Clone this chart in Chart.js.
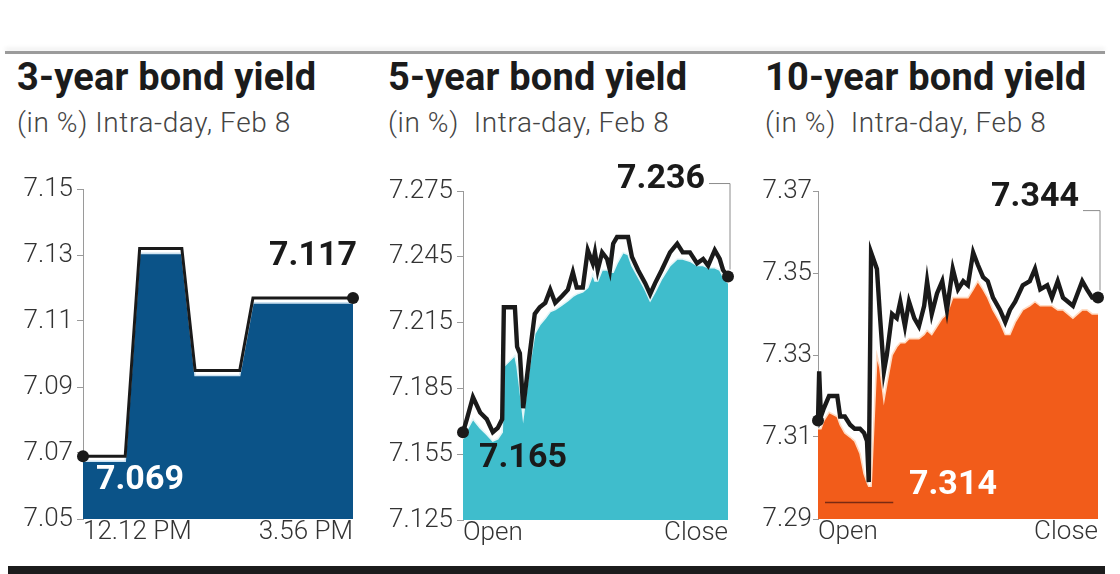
<!DOCTYPE html>
<html>
<head>
<meta charset="utf-8">
<script src="https://cdn.jsdelivr.net/npm/chart.js@4.4.1/dist/chart.umd.min.js"></script>
<style>
  body { margin: 0; width: 1120px; height: 574px; background: #fff; position: relative; overflow: hidden; font-family: Roboto, sans-serif; }
  .rule { position: absolute; left: 5px; top: 51px; width: 1100px; height: 3px; background: #9b9b9b; box-shadow: 0 -3px 4px rgba(0,0,0,0.08); }
  .base { position: absolute; left: 8px; top: 566px; width: 1097px; height: 8px; background: #1c1c1c; }
  .title { position: absolute; top: 55px; font-weight: 700; font-size: 38px; letter-spacing: 0.2px; color: #1b1b1b; white-space: nowrap; }
  .sub { position: absolute; top: 106px; font-weight: 300; font-size: 28px; letter-spacing: 0.6px; color: #444; white-space: pre; }
  .panel { position: absolute; top: 150px; width: 370px; height: 400px; }
  .panel.first { width: 380px; }
</style>
</head>
<body>
<div class="rule"></div>

<div class="title" style="left:17px">3-year bond yield</div>
<div class="sub" style="left:17px">(in %) Intra-day, Feb 8</div>
<div class="title" style="left:388px">5-year bond yield</div>
<div class="sub" style="left:388px">(in %)  Intra-day, Feb 8</div>
<div class="title" style="left:765px">10-year bond yield</div>
<div class="sub" style="left:765px">(in %)  Intra-day, Feb 8</div>

<div class="panel first" style="left:0px"><canvas id="chart-3y"></canvas></div>
<div class="panel" style="left:380px"><canvas id="chart-5y"></canvas></div>
<div class="panel" style="left:750px"><canvas id="chart-10y"></canvas></div>

<div class="base"></div>

<script>
// ---- datos (minutos desde el primer dato, rendimiento en %) ----

// 3 años: 12.12 PM -> 3.56 PM
const threeTime  = [0, 35, 47, 82, 93, 130, 141, 224];
const threeYield = [7.069, 7.069, 7.132, 7.132, 7.095, 7.095, 7.117, 7.117];
const threeFill  = [7.0675, 7.0675, 7.1305, 7.1305, 7.0935, 7.0935, 7.1155, 7.1155];
const threeXLabels = ['12.12 PM', '3.56 PM'];

// 5 años: Open -> Close
const fiveTime = [0, 7, 18, 31, 43, 54, 63, 71, 74, 94, 98, 103, 109, 121, 130, 139, 149, 158, 167, 179,
  190, 199, 206, 217, 226, 235, 239, 244, 252, 261, 266, 272, 279, 290, 299, 306, 317, 330, 339, 348,
  360, 375, 388, 398, 411, 424, 435, 444, 456, 465, 471, 480];
const fiveYield = [7.165, 7.171, 7.181, 7.174, 7.171, 7.165, 7.167, 7.171, 7.222, 7.222,
  7.204, 7.201, 7.176, 7.201, 7.219, 7.222, 7.224, 7.230, 7.224, 7.227,
  7.230, 7.238, 7.231, 7.231, 7.248, 7.242, 7.247, 7.239, 7.247, 7.244,
  7.239, 7.251, 7.254, 7.254, 7.254, 7.245, 7.239, 7.233, 7.228, 7.233,
  7.239, 7.247, 7.251, 7.247, 7.247, 7.242, 7.244, 7.241, 7.248, 7.244,
  7.239, 7.236];
const fiveFill = [7.162, 7.166, 7.171, 7.167, 7.164, 7.161, 7.162, 7.165, 7.195, 7.200,
  7.195, 7.185, 7.172, 7.196, 7.210, 7.214, 7.217, 7.220, 7.221, 7.223,
  7.225, 7.227, 7.228, 7.229, 7.231, 7.237, 7.234, 7.234, 7.239, 7.239,
  7.238, 7.238, 7.242, 7.247, 7.246, 7.241, 7.236, 7.230, 7.225, 7.229,
  7.235, 7.241, 7.244, 7.244, 7.243, 7.241, 7.241, 7.240, 7.240, 7.239,
  7.236, 7.233];
const openCloseLabels = ['Open', 'Close'];

// 10 años: Open -> Close
const tenTime = [0, 2, 5, 10, 19, 33, 38, 46, 55, 63, 72, 79, 84, 87, 91, 101, 106, 113, 118, 127,
  135, 141, 149, 156, 165, 173, 182, 187, 195, 204, 213, 221, 231, 240, 249, 257, 266, 274, 283, 291,
  300, 312, 321, 329, 338, 351, 363, 372, 381, 393, 401, 411, 420, 437, 453, 461, 470, 480];
const tenYield = [7.314, 7.326, 7.315, 7.317, 7.320, 7.320, 7.315, 7.315, 7.313, 7.312,
  7.312, 7.311, 7.309, 7.299, 7.355, 7.351, 7.340, 7.326, 7.330, 7.340,
  7.339, 7.343, 7.337, 7.343, 7.339, 7.337, 7.342, 7.348, 7.340, 7.345,
  7.348, 7.341, 7.351, 7.346, 7.348, 7.347, 7.355, 7.352, 7.349, 7.348,
  7.344, 7.341, 7.338, 7.341, 7.343, 7.347, 7.348, 7.351, 7.346, 7.347,
  7.344, 7.348, 7.344, 7.342, 7.348, 7.346, 7.344, 7.344];
const tenFill = [7.312, 7.312, 7.312, 7.314, 7.316, 7.315, 7.313, 7.311, 7.310, 7.309,
  7.306, 7.301, 7.299, 7.298, 7.298, 7.330, 7.327, 7.319, 7.323, 7.330,
  7.332, 7.333, 7.333, 7.334, 7.334, 7.334, 7.335, 7.336, 7.335, 7.337,
  7.339, 7.340, 7.344, 7.344, 7.344, 7.344, 7.346, 7.348, 7.346, 7.344,
  7.341, 7.338, 7.335, 7.335, 7.338, 7.341, 7.342, 7.343, 7.342, 7.342,
  7.342, 7.341, 7.341, 7.339, 7.341, 7.341, 7.340, 7.340];
// línea fina del mínimo (10 años)
const tenLowRange = [12, 129];
const tenLowValue = 7.294;

let charts = {};

const FONT = 'Roboto';

// etiquetas de apertura / cierre sobre el gráfico
const valueLabels = {
  id: 'valueLabels',
  afterDatasetsDraw(chart, args, opts) {
    const pts = chart.getDatasetMeta(0).data;
    const vals = chart.data.datasets[0].data;
    const ctx = chart.ctx;
    ctx.save();
    ctx.font = '700 34px ' + FONT;
    ctx.textBaseline = 'middle';
    [['start', 0], ['end', pts.length - 1]].forEach(([key, i]) => {
      const o = opts[key];
      if (!o) return;
      const p = pts[i];
      const tx = p.x + o.dx, ty = p.y + o.dy;
      ctx.fillStyle = o.color;
      ctx.textAlign = o.align;
      ctx.fillText(vals[i].y.toFixed(3), tx, ty);
      if (o.leader) {
        ctx.strokeStyle = '#8c8c8c';
        ctx.lineWidth = 1;
        ctx.beginPath();
        ctx.moveTo(tx + 4, p.y + o.leader);
        ctx.lineTo(p.x + 2, p.y + o.leader);
        ctx.lineTo(p.x + 2, p.y - 7);
        ctx.stroke();
      }
    });
    ctx.restore();
  }
};

function pares(xs, ys) {
  return xs.map((x, i) => ({ x: x, y: ys[i] }));
}

function crearGrafico(id, c) {
  const n = c.time.length;
  const datasets = [
    {
      data: pares(c.time, c.line),
      borderColor: '#1a1a1a',
      borderWidth: c.lineWidth,
      borderJoinStyle: 'miter',
      pointRadius: ctx => (ctx.dataIndex === 0 || ctx.dataIndex === n - 1) ? 6 : 0,
      pointBackgroundColor: '#1a1a1a',
      pointBorderWidth: 0,
      fill: false,
      tension: 0,
      clip: false,
      order: 0
    },
    {
      data: pares(c.time, c.fill),
      borderColor: c.edge,
      borderWidth: 1.6,
      backgroundColor: c.color,
      pointRadius: 0,
      fill: 'start',
      tension: 0,
      order: 2
    }
  ];
  if (c.extra) datasets.push(c.extra);

  charts[id] = new Chart(document.getElementById(id), {
    type: 'line',
    data: { datasets: datasets },
    plugins: [valueLabels],
    options: {
      responsive: true,
      maintainAspectRatio: false,
      animation: false,
      layout: { padding: { top: c.padTop, right: c.padRight, left: 0, bottom: 0 } },
      plugins: {
        legend: { display: false },
        tooltip: { enabled: false },
        valueLabels: c.labels
      },
      scales: {
        x: {
          type: 'linear',
          min: c.time[0],
          max: c.time[n - 1],
          grid: { display: false, drawTicks: false },
          border: { display: false },
          afterBuildTicks: s => { s.ticks = [{ value: s.min }, { value: s.max }]; },
          afterFit: s => { s.height = c.xHeight; },
          ticks: {
            autoSkip: false,
            maxRotation: 0,
            align: 'inner',
            padding: -2,
            color: '#333',
            font: { family: FONT, size: 26, weight: '300' },
            callback: (v, i) => c.xLabels[i]
          }
        },
        y: {
          min: c.yMin,
          max: c.yMax,
          grid: { drawOnChartArea: false, tickLength: c.tickLen, color: '#9a9a9a' },
          border: { color: '#9a9a9a', width: 1 },
          afterFit: s => { s.width = c.yWidth; },
          ticks: {
            stepSize: c.step,
            padding: c.tickPad,
            color: '#333',
            font: { family: FONT, size: 26, weight: '300' },
            callback: v => v.toFixed(c.dec)
          }
        }
      }
    }
  });
}

crearGrafico('chart-3y', {
  time: threeTime, line: threeYield, fill: threeFill, xLabels: threeXLabels,
  yMin: 7.05, yMax: 7.15, step: 0.02, dec: 2,
  color: '#0b5388', edge: '#cfe4f2', lineWidth: 3,
  yWidth: 83, xHeight: 31, padTop: 39, padRight: 27, tickLen: 6, tickPad: 4,
  labels: {
    start: { dx: 13, dy: 24, color: '#ffffff', align: 'left' },
    end: { dx: 4, dy: -41, color: '#1a1a1a', align: 'right' }
  }
});

crearGrafico('chart-5y', {
  time: fiveTime, line: fiveYield, fill: fiveFill, xLabels: openCloseLabels,
  yMin: 7.125, yMax: 7.275, step: 0.03, dec: 3,
  color: '#3fbdcc', edge: '#e4f6f8', lineWidth: 4.4,
  yWidth: 83, xHeight: 30, padTop: 41, padRight: 22, tickLen: 6, tickPad: 4,
  labels: {
    start: { dx: 16, dy: 26, color: '#1a1a1a', align: 'left' },
    end: { dx: -23, dy: -97, color: '#1a1a1a', align: 'right', leader: -93 }
  }
});

crearGrafico('chart-10y', {
  time: tenTime, line: tenYield, fill: tenFill, xLabels: openCloseLabels,
  yMin: 7.29, yMax: 7.37, step: 0.02, dec: 2,
  color: '#f25c1a', edge: '#ffdcc4', lineWidth: 4.4,
  yWidth: 68, xHeight: 31, padTop: 41, padRight: 22, tickLen: 5, tickPad: 1,
  labels: {
    start: { dx: 91, dy: 65, color: '#ffffff', align: 'left' },
    end: { dx: -19, dy: -100, color: '#1a1a1a', align: 'right', leader: -87 }
  },
  extra: {
    data: pares(tenLowRange, [tenLowValue, tenLowValue]),
    borderColor: '#7a2a12',
    borderWidth: 1.5,
    pointRadius: 0,
    fill: false,
    order: 1
  }
});
</script>
</body>
</html>
